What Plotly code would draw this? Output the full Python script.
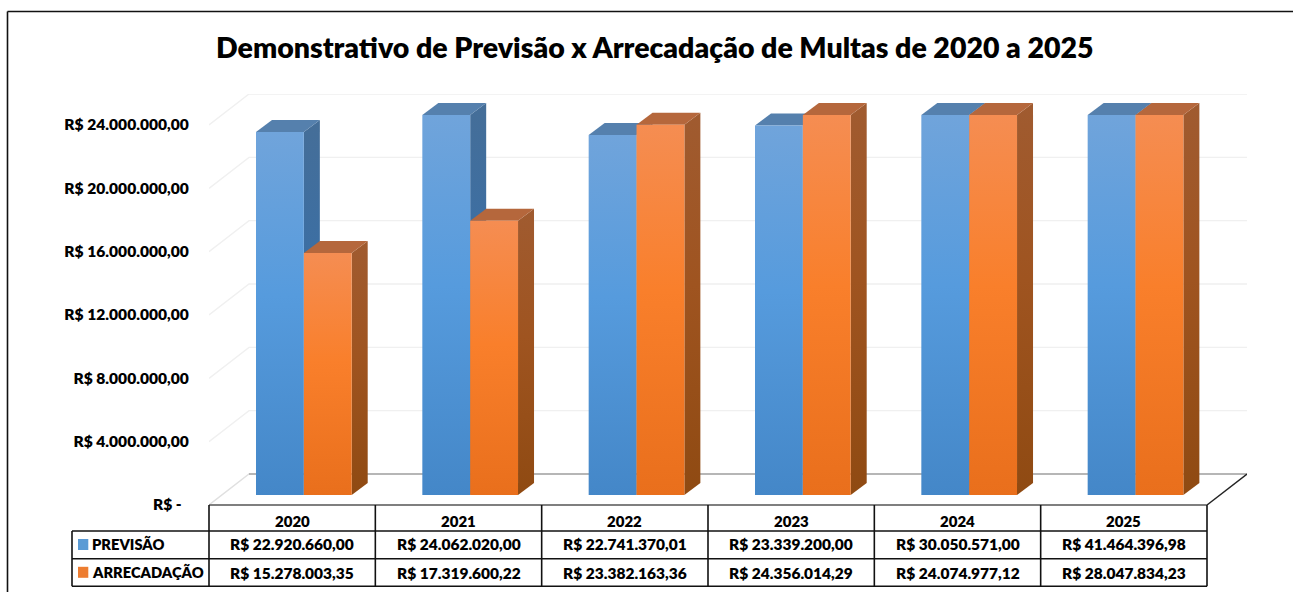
import numpy as np
import plotly.graph_objects as go

# ---- data ----
YEARS = ["2020", "2021", "2022", "2023", "2024", "2025"]
PREVISAO = [22920660.00, 24062020.00, 22741370.01, 23339200.00, 30050571.00, 41464396.98]
ARRECADACAO = [15278003.35, 17319600.22, 23382163.36, 24356014.29, 24074977.12, 28047834.23]
PREVISAO_TXT = ["R$ 22.920.660,00", "R$ 24.062.020,00", "R$ 22.741.370,01",
                "R$ 23.339.200,00", "R$ 30.050.571,00", "R$ 41.464.396,98"]
ARRECADACAO_TXT = ["R$ 15.278.003,35", "R$ 17.319.600,22", "R$ 23.382.163,36",
                   "R$ 24.356.014,29", "R$ 24.074.977,12", "R$ 28.047.834,23"]
TICK_VALUES = [0, 4e6, 8e6, 12e6, 16e6, 20e6, 24e6]
TICK_LABELS = ["R$ -\u00a0\u00a0", "R$ 4.000.000,00", "R$ 8.000.000,00", "R$ 12.000.000,00",
               "R$ 16.000.000,00", "R$ 20.000.000,00", "R$ 24.000.000,00"]
AXIS_MAX = 24e6
TITLE = "Demonstrativo de Previsão x Arrecadação de Multas de 2020 a 2025"

# ---- geometry (pixels of the page) ----
W, H = 1293, 592
PL, PR, PT, PB = 209, 1247, 94, 505     # plot box
CAT_PX = (1207 - 209) / 6
PX_PER_VAL = 380 / 24e6                 # 380 px for 24M
FONT = "Lato"

x_per_px = 1 / CAT_PX
val_per_px = 1 / PX_PER_VAL
px_x = lambda p: (p - PL) / (PR - PL)
px_y = lambda p: (PB - p) / (PB - PT)

fig = go.Figure()

# walls and floor, on the base axis (0 at the front-edge pixel 505)
wall_dx = 40 * x_per_px
wall_dy = 31 * val_per_px
x_end = 6
for v in TICK_VALUES:
    colr = "#F0F0F0" if v else "#E0E0E0"
    fig.add_trace(go.Scatter(x=[0, wall_dx, x_end + wall_dx], y=[v, v + wall_dy, v + wall_dy],
                             mode="lines", line=dict(color=colr, width=1.4),
                             hoverinfo="skip", showlegend=False, yaxis="y", cliponaxis=False))
fig.add_trace(go.Scatter(x=[wall_dx, x_end + wall_dx], y=[wall_dy, wall_dy], mode="lines",
                         line=dict(color="#A6A6A6", width=1.6), hoverinfo="skip",
                         showlegend=False, cliponaxis=False))
fig.add_trace(go.Scatter(x=[x_end, x_end + wall_dx], y=[0, wall_dy], mode="lines",
                         line=dict(color="#222222", width=1.4), hoverinfo="skip",
                         showlegend=False, cliponaxis=False))

# bars, on the overlay axis (0 at pixel 495: plane of the front of the bars)
BAR_START = (256 - 209) * x_per_px
BAR_W = 47.85 * x_per_px
DX = 16 * x_per_px
DY = 12 * val_per_px
STYLES = [
    dict(values=PREVISAO, front=["#4487C8", "#569BDD", "#70A4DB"],
         side=["#2F69A3", "#3A6FA6", "#456E98"], cap="#5580AD"),
    dict(values=ARRECADACAO, front=["#E96F1C", "#F97F2B", "#F58D52"],
         side=["#8F4A12", "#9F5420", "#A05B30"], cap="#B5673C"),
]


def poly(xs, ys, **kw):
    fig.add_trace(go.Scatter(x=xs, y=ys, mode="lines", line=dict(width=0), fill="toself",
                             yaxis="y2", hoverinfo="skip", showlegend=False, cliponaxis=False, **kw))


def grad(stops):
    return dict(type="vertical", colorscale=[[0, stops[0]], [0.55, stops[1]], [1, stops[2]]])


for i in range(len(YEARS)):
    for s, st in enumerate(STYLES):
        v = min(st["values"][i], AXIS_MAX)
        x0 = i + BAR_START + s * BAR_W
        x1 = x0 + BAR_W
        poly([x1, x1 + DX, x1 + DX, x1, x1], [0, DY, v + DY, v, 0], fillgradient=grad(st["side"]))
        poly([x0, x1, x1 + DX, x0 + DX, x0], [v, v, v + DY, v + DY, v], fillcolor=st["cap"])
        poly([x0, x1, x1, x0, x0], [0, 0, v, v, 0], fillgradient=grad(st["front"]))

# ---- data table ----
ROW_Y = [505, 531, 558.8, 586.3]
LEFT = 72
COL_PX = [209 + k * CAT_PX for k in range(7)]
shapes = []


def line(x0, y0, x1, y1, color="#111111", width=1.6):
    shapes.append(dict(type="line", xref="paper", yref="paper",
                       x0=px_x(x0), y0=px_y(y0), x1=px_x(x1), y1=px_y(y1),
                       line=dict(color=color, width=width)))


line(209, ROW_Y[0], 1207, ROW_Y[0], color="#7F7F7F", width=1.8)
for r in ROW_Y[1:]:
    line(LEFT, r, 1207, r)
line(LEFT, ROW_Y[1], LEFT, ROW_Y[3])
for c in COL_PX:
    line(c, ROW_Y[0], c, ROW_Y[3])
# outer frame
line(7.5, 11.5, W, 11.5, width=1.6)
line(7.5, 11.5, 7.5, H, width=1.6)
# legend keys
for (y0, y1, col) in [(539, 550, "#5B9BD5"), (566.8, 577.8, "#ED7D31")]:
    shapes.append(dict(type="rect", xref="paper", yref="paper", x0=px_x(78), x1=px_x(88.3),
                       y0=px_y(y0), y1=px_y(y1), fillcolor=col, line=dict(width=0)))

ann = []


def text(t, x, y, size=15.5, anchor="center", xref="paper", weight=800):
    ann.append(dict(text=t, x=x, y=px_y(y), xref=xref, yref="paper", showarrow=False,
                    xanchor=anchor, yanchor="middle",
                    font=dict(family=FONT, size=size, color="#000000", weight=weight)))


for i, yr in enumerate(YEARS):
    text(yr, i + 0.5, 520.7, size=15, xref="x")
    text(PREVISAO_TXT[i], i + 0.5, 544.3, xref="x")
    text(ARRECADACAO_TXT[i], i + 0.5, 572.7, xref="x")
text("PREVISÃO", px_x(90), 543.7, size=14.7, anchor="left")
text("ARRECADAÇÃO", px_x(90), 571.7, size=14.7, anchor="left")
text(TITLE, px_x(655), 47, size=28.5)

fig.update_layout(
    width=W, height=H, autosize=False, showlegend=False,
    margin=dict(l=PL, r=W - PR, t=PT, b=H - PB, pad=0),
    paper_bgcolor="#FFFFFF", plot_bgcolor="rgba(0,0,0,0)",
    shapes=shapes, annotations=ann,
    xaxis=dict(range=[0, (PR - PL) * x_per_px], visible=False, fixedrange=True),
    yaxis=dict(range=[0, (PB - PT) * val_per_px], tickmode="array", tickvals=TICK_VALUES,
               ticktext=TICK_LABELS, ticks="outside", ticklen=16, tickcolor="rgba(0,0,0,0)",
               showgrid=False, zeroline=False, showline=False, fixedrange=True,
               tickfont=dict(family=FONT, size=15.6, color="#000000", weight=800)),
    yaxis2=dict(overlaying="y", range=[-10 * val_per_px, (495 - PT) * val_per_px], visible=False,
                fixedrange=True),
)
fig.write_html("out.html", config=dict(displayModeBar=False),
               post_script="document.body.style.margin='0';document.body.style.overflow='hidden';")
